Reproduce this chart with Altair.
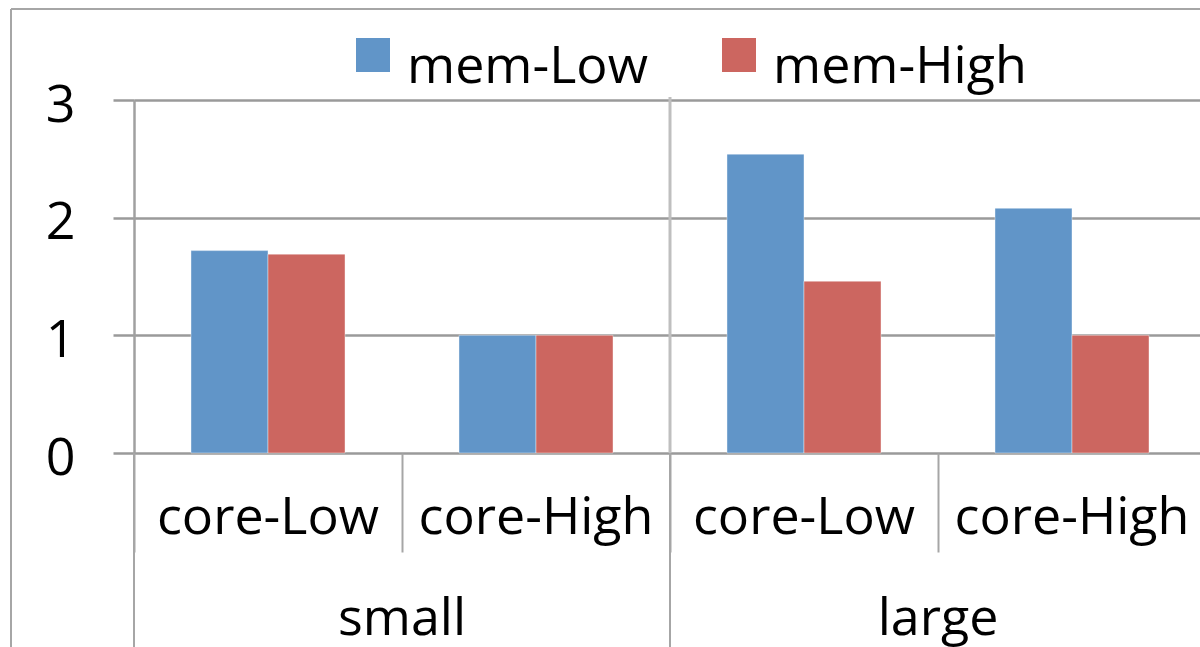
import altair as alt
import pandas as pd

groups = ["small", "small", "large", "large"]
cores = ["core-Low", "core-High", "core-Low", "core-High"]
mem_low = [1.72, 1.0, 2.54, 2.08]
mem_high = [1.69, 1.0, 1.46, 1.0]
series = ["mem-Low", "mem-High"]
colors = ["#6195C8", "#CC6660"]
y_ticks = [0, 1, 2, 3]

FONT = "Open Sans"
FS = 52

keys = [g + "|" + c for g, c in zip(groups, cores)]

rows = []
for k, a, b in zip(keys, mem_low, mem_high):
    rows.append({"key": k, "series": series[0], "value": a})
    rows.append({"key": k, "series": series[1], "value": b})
bars_df = pd.DataFrame(rows)

labels_df = pd.DataFrame({"key": keys, "core": cores})

group_first = []
seen = []
for k, g in zip(keys, groups):
    if g not in seen:
        seen.append(g)
        group_first.append({"key": k, "group": g})
groups_df = pd.DataFrame(group_first)
inner_df = groups_df.iloc[1:]
last_df = pd.DataFrame({"key": [keys[-1]]})

W, H = 1066, 353
xscale = alt.Scale(domain=keys, paddingInner=0, paddingOuter=0, range=[0, 1072])

bars = alt.Chart(bars_df).mark_bar(stroke="#ffffff", strokeWidth=0.8, strokeOpacity=0.5).encode(
    x=alt.X("key:N", scale=xscale, sort=keys,
            axis=alt.Axis(title=None, labels=False, domain=False, ticks=True,
                          bandPosition=0, tickSize=99, tickColor="#a6a6a6",
                          tickWidth=2, grid=False)),
    xOffset=alt.XOffset("series:N", sort=series,
                        scale=alt.Scale(domain=series, paddingOuter=0.74, paddingInner=0)),
    y=alt.Y("value:Q", scale=alt.Scale(domain=[0, 3], nice=False, zero=True),
            axis=alt.Axis(title=None, values=y_ticks, format="d",
                          labelFont=FONT, labelFontSize=FS, labelColor="#000000",
                          labelPadding=38, labelOffset=5,
                          tickSize=21, tickColor="#9a9a9a", tickWidth=2.5,
                          domainColor="#a0a0a0", domainWidth=2.5,
                          grid=True, gridColor="#9a9a9a", gridWidth=2.5)),
    color=alt.Color("series:N", sort=series,
                    scale=alt.Scale(domain=series, range=colors),
                    legend=alt.Legend(title=None, orient="none", direction="horizontal",
                                      legendX=213, legendY=-59,
                                      symbolType="M-1,-1.7H1V0.3H-1Z",
                                      symbolSize=1156, symbolStrokeWidth=0,
                                      labelFont=FONT, labelFontSize=FS,
                                      labelColor="#000000", labelLimit=0,
                                      labelOffset=8, columnPadding=65)),
)

sub_labels = alt.Chart(labels_df).mark_text(
    font=FONT, fontSize=FS, baseline="alphabetic", color="#000000"
).encode(
    x=alt.X("key:N", scale=xscale, sort=keys),
    y=alt.value(434),
    text="core:N",
)

group_labels = alt.Chart(groups_df).mark_text(
    font=FONT, fontSize=FS, baseline="alphabetic", color="#000000"
).encode(
    x=alt.X("key:N", scale=xscale, sort=keys, bandPosition=1),
    y=alt.value(535),
    text="group:N",
)

group_sep = alt.Chart(groups_df).mark_rule(color="#a6a6a6", strokeWidth=2).encode(
    x=alt.X("key:N", scale=xscale, sort=keys, bandPosition=0),
    y=alt.value(353),
    y2=alt.value(600),
)

group_sep_end = alt.Chart(last_df).mark_rule(color="#a6a6a6", strokeWidth=2).encode(
    x=alt.X("key:N", scale=xscale, sort=keys, bandPosition=1),
    y=alt.value(353),
    y2=alt.value(600),
)

plot_sep = alt.Chart(inner_df).mark_rule(color="#bfbfbf", strokeWidth=3).encode(
    x=alt.X("key:N", scale=xscale, sort=keys, bandPosition=0),
    y=alt.value(-3),
    y2=alt.value(353),
)

border_top = alt.Chart(labels_df).mark_rule(color="#a6a6a6", strokeWidth=2).encode(
    x=alt.value(-123), x2=alt.value(1100), y=alt.value(-91)
)
border_left = alt.Chart(labels_df).mark_rule(color="#a6a6a6", strokeWidth=2).encode(
    x=alt.value(-123), y=alt.value(-91), y2=alt.value(600)
)

chart = alt.layer(
    border_top, border_left, plot_sep, bars, group_sep, group_sep_end, sub_labels, group_labels
).properties(
    width=W, height=H,
    padding={"left": 134, "top": 100, "right": 0, "bottom": 200},
    autosize=alt.AutoSizeParams(type="none"),
).configure_view(stroke=None).configure(background="#ffffff")

chart.save("out.html", embed_options={"renderer": "svg", "actions": False})
